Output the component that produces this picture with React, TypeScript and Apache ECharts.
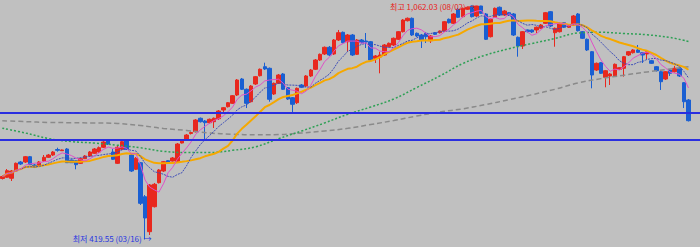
import React, { useEffect, useRef } from "react";
import * as echarts from "echarts";

// Weekly OHLC (index points)
const opens = [
  587.0, 590.3, 587.6, 607.6, 632.3, 632.3, 646.9, 624.1, 623.3, 635.1,
  645.2, 651.5, 666.6, 663.3, 668.0, 637.8, 635.9, 628.7, 641.4, 648.8,
  656.2, 659.8, 672.7, 690.8, 659.8, 628.7, 667.2, 689.9, 651.5, 612.3,
  630.4, 537.1, 441.0, 509.6, 575.5, 607.6, 635.9, 635.1, 633.7, 684.5,
  692.7, 710.5, 715.5, 752.3, 744.9, 740.2, 742.9, 751.2, 775.0, 784.1,
  793.4, 816.2, 860.1, 831.9, 797.8, 846.4, 869.2, 893.9, 889.5, 819.0,
  848.3, 873.9, 836.3, 808.8, 795.1, 843.7, 840.9, 868.4, 886.8, 912.3,
  928.8, 947.2, 928.8, 967.2, 988.3, 962.5, 980.9, 927.9, 967.2, 964.5,
  962.5, 917.0, 920.5, 926.0, 948.8, 953.5, 969.1, 990.0, 1020.2, 1026.8,
  985.6, 980.9, 985.6, 965.3, 987.2, 987.2, 991.9, 1024.0, 1013.0, 1051.5,
  1031.2, 1051.5, 1060.5, 1033.1, 1060.5, 1038.6, 976.3, 1029.5, 1057.0, 1035.8,
  1042.1, 1038.6, 974.6, 950.7, 994.7, 994.7, 994.7, 999.3, 1013.0, 1044.9,
  987.2, 990.0, 1014.7, 1002.1, 1008.4, 1038.6, 990.0, 969.1, 935.1, 884.8,
  904.9, 864.8, 868.4, 868.4, 886.8, 889.5, 926.0, 932.3, 939.8, 932.3,
  928.8, 910.4, 893.9, 880.2, 860.1, 884.8, 880.2, 889.5, 850.0, 802.5,
];
const closes = [
  592.5, 608.4, 607.6, 628.7, 626.8, 646.9, 624.9, 617.8, 632.3, 645.2,
  651.5, 659.8, 664.4, 665.3, 630.4, 630.4, 624.9, 641.4, 648.8, 659.8,
  668.0, 671.6, 687.2, 681.7, 639.7, 672.7, 688.0, 667.2, 607.6, 642.5,
  518.9, 478.6, 569.2, 571.1, 610.4, 633.1, 630.4, 643.3, 681.7, 692.7,
  706.4, 713.3, 747.6, 742.9, 740.2, 749.5, 752.3, 772.3, 781.4, 795.1,
  814.3, 857.4, 831.9, 793.4, 840.9, 866.5, 886.8, 887.6, 804.4, 848.3,
  871.1, 831.9, 805.2, 790.7, 834.6, 837.4, 868.4, 884.8, 912.3, 927.9,
  947.2, 926.0, 967.2, 987.2, 959.8, 980.9, 926.0, 967.2, 959.8, 961.7,
  912.3, 923.3, 926.0, 953.5, 958.1, 971.9, 990.0, 1022.1, 1026.8, 980.9,
  978.2, 967.2, 976.3, 978.2, 982.8, 991.9, 1017.4, 1014.7, 1038.6, 1029.5,
  1054.2, 1057.0, 1031.2, 1060.5, 1040.5, 969.1, 1024.0, 1054.2, 1035.8, 1046.8,
  1035.8, 980.9, 950.7, 990.0, 990.0, 989.2, 1002.1, 1008.4, 1042.1, 1005.6,
  999.3, 1013.0, 1002.1, 1008.4, 1033.1, 992.7, 971.9, 939.8, 871.1, 903.2,
  875.8, 882.9, 873.9, 900.5, 891.2, 921.4, 935.1, 939.8, 933.4, 926.0,
  935.1, 903.2, 882.9, 852.7, 880.2, 875.8, 889.5, 868.4, 797.8, 745.7,
];
const lows = [
  584.3, 588.4, 580.2, 606.2, 624.1, 629.6, 624.1, 615.8, 621.3, 632.3,
  643.3, 648.8, 660.6, 662.5, 629.6, 629.6, 612.3, 626.8, 640.5, 646.0,
  654.3, 657.0, 670.7, 679.0, 637.8, 626.8, 665.3, 665.3, 604.9, 610.4,
  514.3, 419.55, 431.9, 507.4, 573.3, 604.9, 628.2, 633.7, 632.3, 683.1,
  691.3, 707.8, 713.3, 740.7, 695.4, 738.0, 725.6, 747.6, 769.6, 781.9,
  791.5, 813.5, 830.0, 780.5, 795.6, 843.7, 867.0, 884.8, 797.8, 816.2,
  846.4, 830.0, 802.5, 766.0, 791.5, 835.4, 838.2, 865.6, 884.8, 909.6,
  926.0, 923.3, 926.0, 964.5, 957.6, 935.1, 923.3, 926.0, 957.6, 945.2,
  909.6, 904.1, 875.8, 923.3, 946.6, 950.7, 967.2, 987.8, 1018.0, 978.2,
  975.4, 945.2, 959.0, 959.0, 980.9, 985.0, 989.2, 1012.5, 1011.1, 1027.6,
  1029.0, 1049.6, 1029.0, 1030.3, 1038.6, 967.2, 974.1, 1027.6, 1033.1, 1033.1,
  1033.1, 978.2, 921.4, 942.5, 987.8, 986.4, 986.4, 997.4, 1011.1, 1002.9,
  948.8, 987.8, 1000.1, 1000.1, 1005.6, 990.5, 969.9, 937.0, 834.6, 882.1,
  873.9, 837.4, 843.7, 865.6, 884.8, 866.5, 923.3, 930.1, 931.5, 904.1,
  915.0, 901.3, 880.7, 830.0, 857.4, 868.4, 878.0, 865.6, 780.5, 743.5,
];
const highs = [
  595.3, 613.1, 610.4, 630.9, 635.1, 648.8, 648.8, 626.8, 635.1, 651.5,
  654.3, 662.5, 671.6, 666.6, 670.7, 639.2, 637.8, 643.3, 651.5, 662.5,
  670.7, 674.9, 689.9, 692.7, 668.0, 676.2, 695.4, 692.7, 654.3, 646.0,
  632.3, 541.7, 571.9, 574.7, 613.1, 635.1, 637.8, 646.0, 684.5, 695.4,
  709.2, 716.0, 750.3, 754.5, 747.6, 751.7, 754.5, 775.0, 783.3, 797.0,
  816.2, 860.1, 862.9, 834.1, 843.7, 868.4, 889.0, 904.9, 891.7, 850.5,
  873.9, 876.6, 838.2, 810.7, 836.8, 846.4, 871.1, 887.6, 915.0, 930.1,
  949.4, 950.7, 969.9, 994.7, 990.5, 983.7, 983.7, 969.9, 969.9, 986.4,
  964.5, 926.0, 935.1, 956.2, 960.3, 974.1, 991.9, 1024.8, 1029.0, 1029.0,
  987.8, 983.7, 989.2, 980.9, 989.2, 993.3, 1019.4, 1026.2, 1041.3, 1053.7,
  1056.4, 1059.2, 1062.03, 1061.1, 1061.1, 1041.3, 1026.2, 1056.4, 1059.2, 1049.6,
  1044.1, 1041.3, 976.8, 991.9, 996.0, 996.0, 1004.3, 1011.1, 1044.1, 1046.8,
  1001.5, 1015.2, 1016.6, 1009.7, 1035.8, 1041.3, 991.9, 971.3, 937.0, 905.4,
  906.8, 884.8, 876.6, 902.7, 893.1, 923.3, 937.0, 942.5, 953.5, 934.3,
  937.0, 912.3, 895.8, 882.1, 882.1, 887.6, 895.8, 893.1, 851.9, 805.2,
];

// Long moving averages: [week index, value]
const ma60Points: [number, number][] = [
  [0, 725.1], [5, 711.9], [10, 696.8], [15, 688.3], [20, 684.2], [25, 678.4],
  [30, 671.3], [35, 661.7], [40, 658.4], [45, 658.4], [50, 664.4], [55, 674.0],
  [60, 696.3], [65, 717.4], [70, 739.6], [75, 763.2], [80, 783.3], [85, 805.2],
  [90, 836.8], [95, 868.4], [100, 902.7], [105, 926.0], [110, 943.3], [115, 957.6],
  [120, 971.3], [125, 986.4], [130, 988.3], [135, 985.0], [140, 981.5], [145, 974.1],
  [149, 963.1],
];
const ma120Points: [number, number][] = [
  [0, 745.7], [5, 743.2], [10, 741.0], [15, 740.2], [20, 739.4], [25, 738.0],
  [30, 732.5], [35, 724.3], [40, 719.0], [45, 711.9], [50, 708.6], [55, 707.0],
  [60, 707.8], [65, 711.9], [70, 717.4], [75, 724.8], [80, 735.2], [85, 746.2],
  [90, 758.6], [95, 769.6], [100, 778.3], [105, 790.1], [110, 803.3], [115, 817.0],
  [120, 831.9], [125, 849.2], [130, 861.2], [135, 870.6], [140, 879.6], [145, 887.6],
  [149, 893.6],
];

const levelLines = [767, 693.5];
const highLabel = "최고 1,062.03 (08/02) →";
const lowLabel = "최저 419.55 (03/16) →";
const slotCount = 152;
const firstWeekUTC = Date.UTC(2019, 7, 12);

const categories = Array.from({ length: slotCount }, (_, i) => {
  const d = new Date(firstWeekUTC + i * 7 * 86400000);
  return `${d.getUTCFullYear()}-${String(d.getUTCMonth() + 1).padStart(2, "0")}-${String(d.getUTCDate()).padStart(2, "0")}`;
});

function movingAverage(n: number): number[] {
  return closes.map((_, i) => {
    const start = Math.max(0, i - n + 1);
    let s = 0;
    for (let k = start; k <= i; k++) s += closes[k];
    return +(s / (i - start + 1)).toFixed(2);
  });
}

const UP = "#e8281e";
const DOWN = "#1a5fd2";
const FONT = "'Liberation Sans Narrow', 'Noto Sans CJK KR', sans-serif";

export default function App() {
  const ref = useRef<HTMLDivElement>(null);
  useEffect(() => {
    const chart = echarts.init(ref.current!, null, { renderer: "svg" });
    const candles = opens.map((o, i) => [o, closes[i], lows[i], highs[i]]);
    let hi = 0;
    let lo = 0;
    highs.forEach((h, i) => { if (h > highs[hi]) hi = i; });
    lows.forEach((l, i) => { if (l < lows[lo]) lo = i; });

    const maLine = (name: string, data: any, color: string, width: number, type: any, smooth: any = false) => ({
      name,
      type: "line",
      data,
      symbol: "none",
      showSymbol: false,
      smooth,
      connectNulls: true,
      silent: true,
      z: 3,
      lineStyle: { color, width, type },
    });

    chart.setOption({
      animation: false,
      backgroundColor: "#c0c0c0",
      grid: { left: 0, right: 0, top: 0, bottom: 0 },
      xAxis: {
        type: "category",
        data: categories,
        boundaryGap: true,
        show: false,
      },
      yAxis: { type: "value", min: 399, max: 1077, show: false, splitLine: { show: false } },
      series: [
        {
          name: "주봉",
          type: "candlestick",
          data: candles,
          barWidth: 4,
          z: 2,
          itemStyle: { color: UP, color0: DOWN, borderColor: UP, borderColor0: DOWN, borderWidth: 1 },
          markLine: {
            symbol: "none",
            silent: true,
            z: 5,
            label: { show: false },
            lineStyle: { color: "#2a2ee0", width: 2, type: "solid" },
            data: levelLines.map((v) => ({ yAxis: v })),
          },
          markPoint: {
            symbol: "circle",
            symbolSize: 1,
            itemStyle: { color: "rgba(0,0,0,0)" },
            silent: true,
            z: 6,
            label: { show: true, fontSize: 8, fontFamily: FONT, position: "left", distance: 0 },
            data: [
              { coord: [categories[hi], highs[hi]], label: { formatter: highLabel, color: "#e8201a", offset: [4, 1] } },
              { coord: [categories[lo], lows[lo]], label: { formatter: lowLabel, color: "#2836e0", offset: [7, -1] } },
            ],
          },
        },
        maLine("MA120", ma120Points, "#8a8a8a", 1.5, [5, 3], 0.4),
        maLine("MA60", ma60Points, "#2ea055", 1.5, [2, 2], 0.4),
        maLine("MA20", movingAverage(20), "#f5a800", 2, "solid"),
        maLine("MA10", movingAverage(10), "#3c4cb8", 1, [2, 1]),
        maLine("MA5", movingAverage(5), "#e050c8", 1, "solid"),
      ],
    });
    return () => chart.dispose();
  }, []);
  return <div ref={ref} style={{ position: "fixed", left: 0, top: 0, width: 700, height: 247 }} />;
}
